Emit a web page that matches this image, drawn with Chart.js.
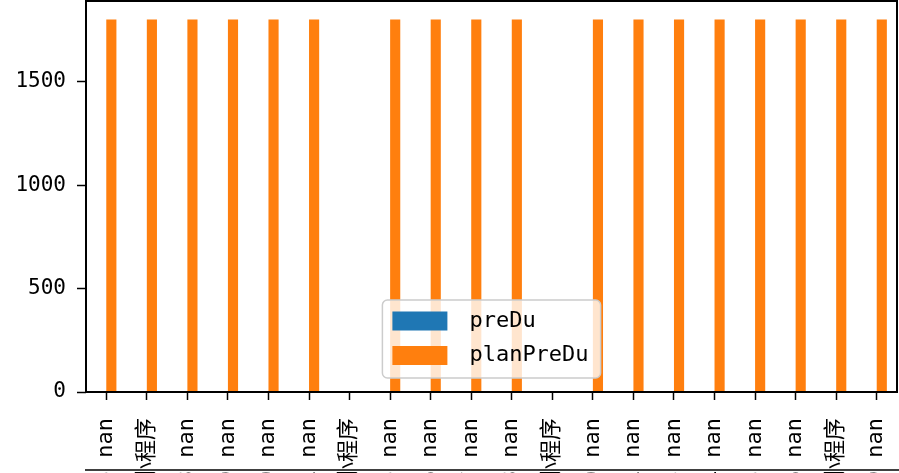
<!DOCTYPE html>
<html>
<head>
<meta charset="utf-8">
<script src="https://cdn.jsdelivr.net/npm/chart.js@4.4.0/dist/chart.umd.min.js"></script>
<style>
    html, body { margin: 0; padding: 0; background: #fff; overflow: hidden; }
    #chart { display: block; }
</style>
</head>
<body>
<canvas id="chart" width="899" height="473"></canvas>
<script>
const categories = [
    "2023-12-05 nan", "2023-12-06 小程序", "2023-12-08 nan", "2023-12-09 nan", "2023-12-10 nan",
    "2023-12-11 nan", "2023-12-12 小程序", "2023-12-15 nan", "2023-12-16 nan", "2023-12-17 nan",
    "2023-12-18 nan", "2023-12-19 小程序", "2023-12-20 nan", "2023-12-21 nan", "2023-12-23 nan",
    "2023-12-24 nan", "2023-12-25 nan", "2023-12-26 nan", "2023-12-27 小程序", "2023-12-29 nan",
];
const preDu = [
    null, null, null, null, null, null, null, null, null, null,
    null, null, null, null, null, null, null, null, null, null,
];
const planPreDu = [
    1800, 1800, 1800, 1800, 1800, 1800, null, 1800, 1800, 1800,
    1800, null, 1800, 1800, 1800, 1800, 1800, 1800, 1800, 1800,
];
const yTicks = [0, 500, 1000, 1500];

const fontFamily = '"DejaVu Sans Mono", "Noto Sans CJK SC", sans-serif';

// 外框 + 底部那条线
const frame = {
    id: "frame",
    afterDraw(chart) {
        const { ctx, chartArea: a } = chart;
        ctx.save();
        ctx.strokeStyle = "#000";
        ctx.lineWidth = 2;
        ctx.strokeRect(a.left, a.top, a.right - a.left, a.bottom - a.top);
        ctx.lineWidth = 1.5;
        ctx.beginPath();
        ctx.moveTo(a.left - 1, 470);
        ctx.lineTo(chart.width, 470);
        ctx.stroke();
        ctx.restore();
    },
};

// 图例 (lower center)
const legendBox = {
    id: "legendBox",
    afterDraw(chart) {
        const { ctx, chartArea: a } = chart;
        const items = chart.data.datasets;
        ctx.save();
        ctx.font = `22px ${fontFamily}`;
        const textW = Math.max(...items.map((d) => ctx.measureText(d.label).width));
        const patchW = 55, patchH = 19, rowH = 34.5, padX = 10, gap = 22;
        const boxW = padX + patchW + gap + textW + 12;
        const boxH = 78;
        const x0 = (a.left + a.right) / 2 - boxW / 2;
        const y0 = a.bottom - 14 - boxH;
        ctx.beginPath();
        ctx.roundRect(x0, y0, boxW, boxH, 5);
        ctx.fillStyle = "rgba(255,255,255,0.8)";
        ctx.fill();
        ctx.strokeStyle = "#cccccc";
        ctx.lineWidth = 1.5;
        ctx.stroke();
        items.forEach((d, i) => {
            const cy = y0 + 21 + i * rowH;
            ctx.fillStyle = d.backgroundColor;
            ctx.fillRect(x0 + padX, cy - patchH / 2, patchW, patchH);
            ctx.fillStyle = "#000";
            ctx.textBaseline = "middle";
            ctx.fillText(d.label, x0 + padX + patchW + gap, cy);
        });
        ctx.restore();
    },
};

new Chart(document.getElementById("chart"), {
    type: "bar",
    data: {
        labels: categories,
        datasets: [
            { label: "preDu", data: preDu, backgroundColor: "#1f77b4", categoryPercentage: 0.5, barPercentage: 1 },
            { label: "planPreDu", data: planPreDu, backgroundColor: "#ff7f0e", categoryPercentage: 0.5, barPercentage: 1 },
        ],
    },
    options: {
        responsive: false,
        animation: false,
        layout: { padding: { top: 1, right: 2, left: 0, bottom: 0 } },
        plugins: { legend: { display: false }, tooltip: { enabled: false } },
        scales: {
            x: {
                grid: { drawOnChartArea: false, offset: false, tickLength: 8, tickColor: "#000", tickWidth: 1.5 },
                border: { display: false },
                ticks: { autoSkip: false, minRotation: 90, maxRotation: 90, padding: 18, font: { family: fontFamily, size: 22 }, color: "#000" },
                afterFit: (scale) => {
                    scale.height = 81;
                    scale.paddingLeft = 0;
                    scale.paddingRight = 0;
                },
            },
            y: {
                min: 0,
                max: 1890,
                afterBuildTicks: (scale) => { scale.ticks = yTicks.map((v) => ({ value: v })); },
                grid: { drawOnChartArea: false, tickLength: 9, tickColor: "#000", tickWidth: 1.5 },
                border: { display: false },
                ticks: { padding: 11, font: { family: fontFamily, size: 21 }, color: "#000", callback: (v) => String(v) },
                afterFit: (scale) => {
                    scale.width = 86;
                    scale.paddingTop = 0;
                    scale.paddingBottom = 0;
                },
            },
        },
    },
    plugins: [frame, legendBox],
});
</script>
</body>
</html>
